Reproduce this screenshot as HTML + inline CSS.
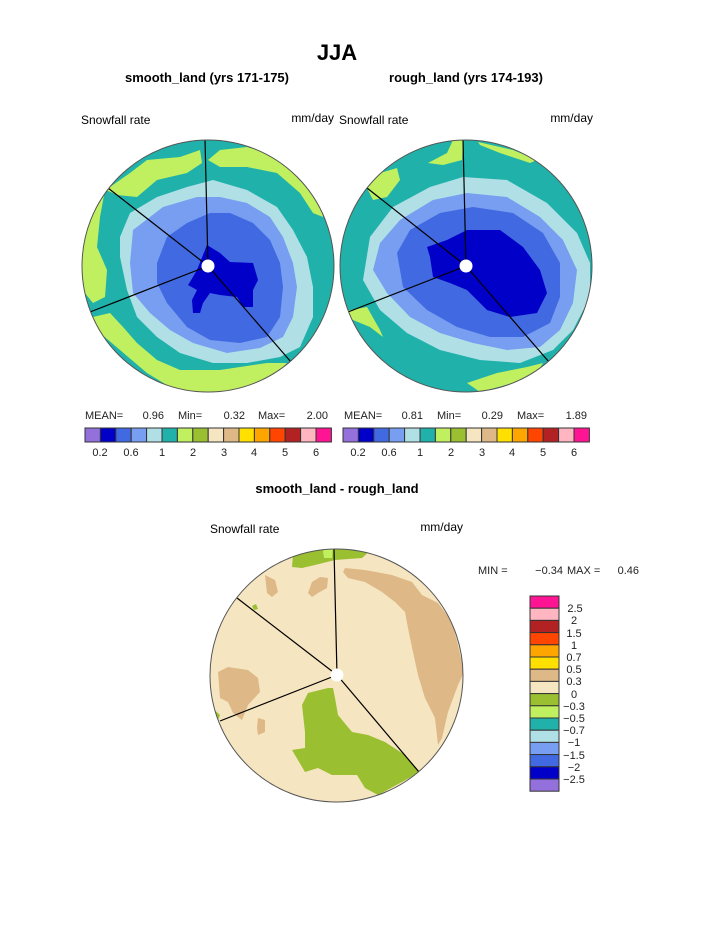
<!DOCTYPE html>
<html><head><meta charset="utf-8"><style>html,body{margin:0;padding:0;background:#fff}svg{display:block}text{font-family:"Liberation Sans",sans-serif}</style></head><body>
<svg width="723" height="935" viewBox="0 0 723 935" xmlns="http://www.w3.org/2000/svg">
<defs>
<clipPath id="c1"><circle cx="208" cy="266" r="126"/></clipPath>
<clipPath id="c2"><circle cx="466" cy="266" r="126"/></clipPath>
<clipPath id="c3"><circle cx="336.5" cy="675.5" r="126.5"/></clipPath>
</defs>
<text x="337" y="60" font-size="22" font-weight="bold" text-anchor="middle">JJA</text>
<text x="207" y="82" font-size="13" font-weight="bold" text-anchor="middle">smooth_land (yrs 171-175)</text>
<text x="466" y="82" font-size="13" font-weight="bold" text-anchor="middle">rough_land (yrs 174-193)</text>
<text x="81" y="124" font-size="12">Snowfall rate</text>
<text x="334" y="122" font-size="12" text-anchor="end">mm/day</text>
<text x="339" y="124" font-size="12">Snowfall rate</text>
<text x="593" y="122" font-size="12" text-anchor="end">mm/day</text>

<!-- left plot -->
<g clip-path="url(#c1)">
<rect x="80" y="138" width="256" height="256" fill="#20B2AA"/>
<polygon fill="#C0F060" points="110,187 130,173 147,160 180,157 200,150 202,163 187,173 157,180 137,197 117,195 95,185"/>
<polygon fill="#C0F060" points="208,160 220,150 247,147 280,157 307,180 320,203 323,217 313,213 300,193 277,173 247,167 220,167"/>
<polygon fill="#C0F060" points="80,237 93,197 105,190 100,217 97,247 107,270 105,297 93,303 80,287"/>
<polygon fill="#C0F060" points="93,317 110,313 123,327 137,343 157,360 180,370 220,370 267,363 287,363 267,383 220,396 180,393 147,373 120,350 100,333"/>
<polygon fill="#B0E0E6" points="130,213 157,197 187,187 213,180 247,190 277,207 293,230 307,257 313,287 313,317 300,347 280,357 247,363 213,363 180,353 157,337 137,317 127,290 120,257 120,237"/>
<polygon fill="#779EF0" points="133,230 163,207 197,197 220,197 247,203 270,217 283,237 293,263 297,287 293,317 283,337 260,348 227,353 193,343 170,330 150,313 133,293 130,263"/>
<polygon fill="#4169E1" points="157,263 167,237 187,223 210,213 230,213 253,223 270,240 280,263 283,287 280,317 267,337 240,343 210,340 187,327 167,303 157,283"/>
<polygon fill="#0000C8" points="190,282 197,270 207,245 220,253 230,262 253,263 258,280 253,290 253,307 243,307 237,297 220,295 210,293 203,303 200,313 193,313 192,300 197,290 188,285"/>
<g stroke="#000" stroke-width="1.2" fill="none"><line x1="208" y1="266" x2="205" y2="139"/><line x1="208" y1="266" x2="108" y2="188"/><line x1="208" y1="266" x2="90" y2="312"/><line x1="208" y1="266" x2="291" y2="362"/></g>
<circle cx="208" cy="266" r="6.5" fill="#fff"/>
</g>
<circle cx="208" cy="266" r="126" fill="none" stroke="#555" stroke-width="1"/>

<!-- right plot -->
<g clip-path="url(#c2)">
<rect x="338" y="138" width="256" height="256" fill="#20B2AA"/>
<polygon fill="#C0F060" points="428,163 447,153 453,140 463,139 462,160 443,165"/>
<polygon fill="#C0F060" points="478,142 513,150 537,160 530,163 500,153 480,145"/>
<polygon fill="#C0F060" points="367,188 380,173 397,168 400,180 387,197 373,200"/>
<polygon fill="#C0F060" points="340,312 367,307 380,330 383,337 370,327 353,320"/>
<polygon fill="#C0F060" points="467,383 497,373 527,367 543,363 537,373 513,383 480,392"/>
<polygon fill="#B0E0E6" points="370,237 393,207 430,187 463,177 507,180 547,203 577,233 590,263 590,297 573,330 553,350 520,363 480,360 440,350 407,333 380,310 363,280"/>
<polygon fill="#779EF0" points="380,243 400,220 433,200 467,193 507,197 540,217 563,240 577,270 573,303 560,330 540,347 507,350 473,343 440,333 410,317 387,293 373,270"/>
<polygon fill="#4169E1" points="397,253 410,230 440,213 473,207 513,213 543,233 560,263 560,297 550,323 523,337 490,337 457,327 427,310 403,287"/>
<polygon fill="#0000C8" points="427,247 447,240 467,230 500,230 523,247 540,270 547,293 537,313 510,317 487,310 467,290 450,283 433,277 430,257"/>
<g stroke="#000" stroke-width="1.2" fill="none"><line x1="466" y1="266" x2="463" y2="139"/><line x1="466" y1="266" x2="367" y2="188"/><line x1="466" y1="266" x2="348" y2="312"/><line x1="466" y1="266" x2="549" y2="362"/></g>
<circle cx="466" cy="266" r="6.5" fill="#fff"/>
</g>
<circle cx="466" cy="266" r="126" fill="none" stroke="#555" stroke-width="1"/>

<!-- colorbars -->
<g font-size="11" fill="#222">
<text x="85" y="419">MEAN=</text><text x="164" y="419" text-anchor="end">0.96</text>
<text x="178" y="419">Min=</text><text x="245" y="419" text-anchor="end">0.32</text>
<text x="258" y="419">Max=</text><text x="328" y="419" text-anchor="end">2.00</text>
<text x="344" y="419">MEAN=</text><text x="423" y="419" text-anchor="end">0.81</text>
<text x="437" y="419">Min=</text><text x="503" y="419" text-anchor="end">0.29</text>
<text x="517" y="419">Max=</text><text x="587" y="419" text-anchor="end">1.89</text>
</g>
<g stroke="#333" stroke-width="1">
<g id="cb">
<rect x="85" y="428" width="15.4" height="14" fill="#9370DB"/>
<rect x="100.4" y="428" width="15.4" height="14" fill="#0000C8"/>
<rect x="115.8" y="428" width="15.4" height="14" fill="#4169E1"/>
<rect x="131.2" y="428" width="15.4" height="14" fill="#779EF0"/>
<rect x="146.6" y="428" width="15.4" height="14" fill="#B0E0E6"/>
<rect x="162" y="428" width="15.4" height="14" fill="#20B2AA"/>
<rect x="177.4" y="428" width="15.4" height="14" fill="#C0F060"/>
<rect x="192.8" y="428" width="15.4" height="14" fill="#9ABF30"/>
<rect x="208.2" y="428" width="15.4" height="14" fill="#F5E5C0"/>
<rect x="223.6" y="428" width="15.4" height="14" fill="#DEB887"/>
<rect x="239" y="428" width="15.4" height="14" fill="#FFE000"/>
<rect x="254.4" y="428" width="15.4" height="14" fill="#FFA500"/>
<rect x="269.8" y="428" width="15.4" height="14" fill="#FF4500"/>
<rect x="285.2" y="428" width="15.4" height="14" fill="#B22222"/>
<rect x="300.6" y="428" width="15.4" height="14" fill="#FFB6C1"/>
<rect x="316" y="428" width="15.4" height="14" fill="#FF1493"/>
</g>
<use href="#cb" transform="translate(258,0)"/>
</g>
<g font-size="11" fill="#222" text-anchor="middle">
<text x="100" y="456">0.2</text><text x="131" y="456">0.6</text><text x="162" y="456">1</text><text x="193" y="456">2</text><text x="224" y="456">3</text><text x="254" y="456">4</text><text x="285" y="456">5</text><text x="316" y="456">6</text>
<text x="358" y="456">0.2</text><text x="389" y="456">0.6</text><text x="420" y="456">1</text><text x="451" y="456">2</text><text x="482" y="456">3</text><text x="512" y="456">4</text><text x="543" y="456">5</text><text x="574" y="456">6</text>
</g>

<!-- bottom -->
<text x="337" y="493" font-size="13" font-weight="bold" text-anchor="middle">smooth_land - rough_land</text>
<text x="210" y="533" font-size="12">Snowfall rate</text>
<text x="463" y="531" font-size="12" text-anchor="end">mm/day</text>
<g clip-path="url(#c3)">
<rect x="208" y="547" width="258" height="258" fill="#F5E5C0"/>
<polygon fill="#9ABF30" points="292,567 293,555 325,547 372,549 362,558 335,560 315,565 302,568"/>
<polygon fill="#C0F060" points="323,551 326,547 333,547 332,558 324,558"/>
<polygon fill="#DEB887" points="345,568 365,570 392,575 412,582 422,595 438,603 452,622 458,645 464,672 458,685 448,712 442,738 438,745 435,718 425,698 418,675 413,652 408,628 405,612 395,602 382,592 365,582 348,578 343,572"/>
<polygon fill="#DEB887" points="308,593 312,582 320,577 328,578 327,588 318,593 312,597"/>
<polygon fill="#DEB887" points="265,575 275,580 278,592 272,597 267,593"/>
<polygon fill="#DEB887" points="218,672 228,667 248,670 258,678 260,692 248,705 242,720 233,713 228,702 220,698"/>
<polygon fill="#DEB887" points="258,718 265,720 265,732 258,735 257,728"/>
<polygon fill="#9ABF30" points="302,705 308,693 328,688 333,688 335,698 338,715 352,732 368,735 385,742 405,755 420,772 402,782 378,795 365,788 357,775 345,775 332,775 318,768 305,772 292,750 305,748 305,732"/>
<polygon fill="#9ABF30" points="210,706 220,715 218,720 210,718"/>
<polygon fill="#9ABF30" points="252,606 256,604 258,609 254,610"/>
<g stroke="#000" stroke-width="1.2" fill="none"><line x1="337" y1="675" x2="334" y2="549"/><line x1="337" y1="675" x2="237" y2="598"/><line x1="337" y1="675" x2="220" y2="721"/><line x1="337" y1="675" x2="419" y2="772"/></g>
<circle cx="337" cy="675" r="6.5" fill="#fff"/>
</g>
<circle cx="336.5" cy="675.5" r="126.5" fill="none" stroke="#555" stroke-width="1"/>

<g font-size="11" fill="#222">
<text x="478" y="574">MIN =</text><text x="563" y="574" text-anchor="end">−0.34</text>
<text x="567" y="574">MAX =</text><text x="639" y="574" text-anchor="end">0.46</text>
</g>
<g stroke="#333" stroke-width="1">
<rect x="530" y="596" width="29" height="12.2" fill="#FF1493"/>
<rect x="530" y="608.2" width="29" height="12.2" fill="#FFB6C1"/>
<rect x="530" y="620.4" width="29" height="12.2" fill="#B22222"/>
<rect x="530" y="632.6" width="29" height="12.2" fill="#FF4500"/>
<rect x="530" y="644.8" width="29" height="12.2" fill="#FFA500"/>
<rect x="530" y="657" width="29" height="12.2" fill="#FFE000"/>
<rect x="530" y="669.2" width="29" height="12.2" fill="#DEB887"/>
<rect x="530" y="681.4" width="29" height="12.2" fill="#F5E5C0"/>
<rect x="530" y="693.6" width="29" height="12.2" fill="#9ABF30"/>
<rect x="530" y="705.8" width="29" height="12.2" fill="#C0F060"/>
<rect x="530" y="718" width="29" height="12.2" fill="#20B2AA"/>
<rect x="530" y="730.2" width="29" height="12.2" fill="#B0E0E6"/>
<rect x="530" y="742.4" width="29" height="12.2" fill="#779EF0"/>
<rect x="530" y="754.6" width="29" height="12.2" fill="#4169E1"/>
<rect x="530" y="766.8" width="29" height="12.2" fill="#0000C8"/>
<rect x="530" y="779" width="29" height="12.2" fill="#9370DB"/>
</g>
<g font-size="11" fill="#222" text-anchor="middle">
<text x="575" y="612">2.5</text><text x="574" y="624">2</text><text x="574" y="637">1.5</text><text x="574" y="649">1</text><text x="574" y="661">0.7</text><text x="574" y="673">0.5</text><text x="574" y="685">0.3</text><text x="574" y="698">0</text><text x="574" y="710">−0.3</text><text x="574" y="722">−0.5</text><text x="574" y="734">−0.7</text><text x="574" y="746">−1</text><text x="574" y="759">−1.5</text><text x="574" y="771">−2</text><text x="574" y="783">−2.5</text>
</g>
</svg>
</body></html>
